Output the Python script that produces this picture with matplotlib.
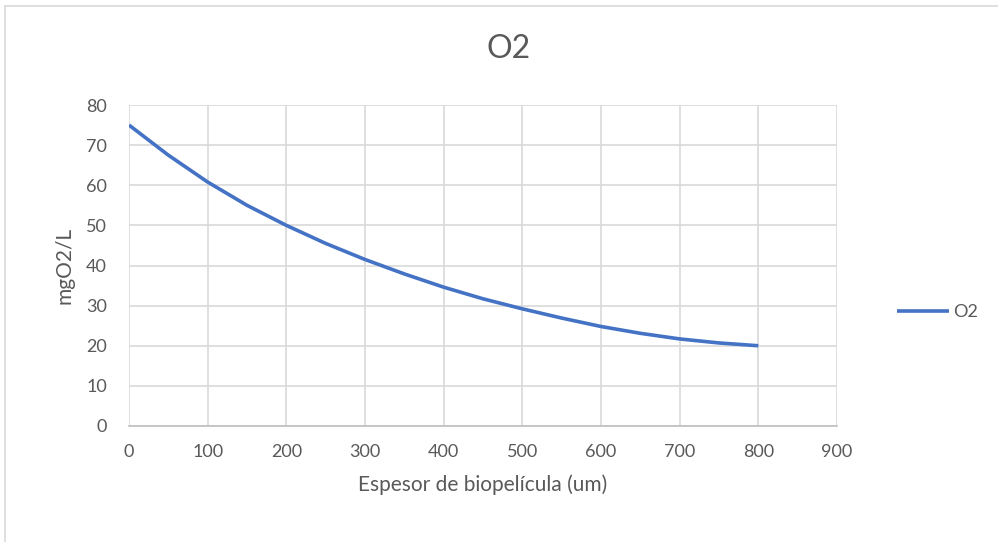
import matplotlib.pyplot as plt
from matplotlib.lines import Line2D

# espesor de biopelícula (um) vs concentración de O2 (mgO2/L)
espesor = [0, 50, 100, 150, 200, 250, 300, 350, 400, 450, 500, 550, 600, 650, 700, 750, 800]
o2 = [75, 67.5, 60.8, 55.0, 50, 45.5, 41.5, 37.9, 34.6, 31.7, 29.2, 26.9, 24.8, 23.1, 21.7, 20.7, 20]

x_ticks = [0, 100, 200, 300, 400, 500, 600, 700, 800, 900]
y_ticks = [0, 10, 20, 30, 40, 50, 60, 70, 80]

plt.rcParams['font.family'] = ['Lato', 'DejaVu Sans']
txt = '#595959'
grid = '#d9d9d9'

fig = plt.figure(figsize=(9.98, 5.42), dpi=100)
ax = fig.add_axes([129 / 998, 1 - 426 / 542, 708 / 998, 321 / 542])

ax.plot(espesor, o2, color='#4472C4', linewidth=2.6, solid_capstyle='butt',
        solid_joinstyle='round', label='O2')

ax.set_xlim(0, 900)
ax.set_ylim(0, 80)
ax.set_xticks(x_ticks)
ax.set_yticks(y_ticks)
ax.grid(True, color=grid, linewidth=1.2)
ax.set_axisbelow(True)
for s in ['top', 'right', 'left']:
    ax.spines[s].set_visible(False)
ax.spines['bottom'].set_color('#bfbfbf')
ax.spines['bottom'].set_linewidth(1.2)
ax.tick_params(length=0, labelsize=13, labelcolor=txt)
ax.tick_params(axis='x', pad=13)
ax.tick_params(axis='y', pad=16)

ax.set_xlabel('Espesor de biopelícula (um)', fontsize=15, color=txt, labelpad=10)
ax.set_ylabel('mgO2/L', fontsize=15, color=txt, labelpad=8)
fig.text(509 / 998, 1 - 49 / 542, 'O2', ha='center', va='center', fontsize=23, color=txt)

fig.legend(loc='center left', bbox_to_anchor=(897 / 998, 1 - 312 / 542), frameon=False,
           borderpad=0, borderaxespad=0, fontsize=13, labelcolor=txt,
           handlelength=2.9, handletextpad=0.2)

# marco del gráfico
fig.add_artist(Line2D([5 / 998, 1], [1 - 6 / 542] * 2, color=grid, linewidth=1.2))
fig.add_artist(Line2D([5 / 998] * 2, [0, 1 - 6 / 542], color=grid, linewidth=1.2))

fig.savefig('out.png', dpi=100)
